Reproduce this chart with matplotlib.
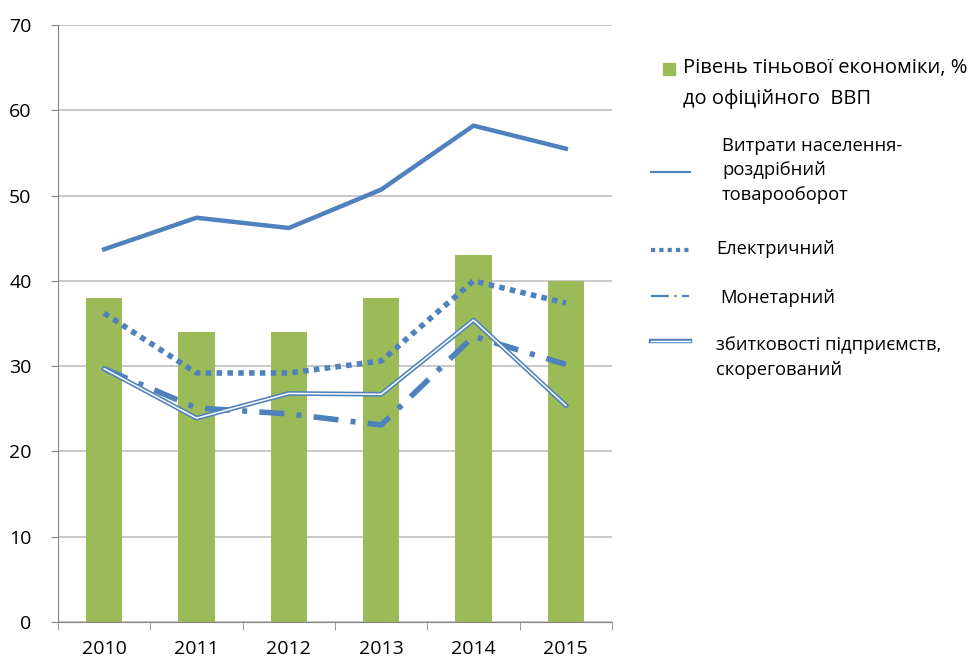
import matplotlib
matplotlib.use("Agg")
import matplotlib.pyplot as plt
from matplotlib.lines import Line2D
from matplotlib.patches import Rectangle
import numpy as np

plt.rcParams['font.family'] = ['Open Sans', 'DejaVu Sans']

years = ["2010", "2011", "2012", "2013", "2014", "2015"]
shadow_level = [38, 34, 34, 38, 43, 40]
retail = [43.7, 47.4, 46.2, 50.7, 58.2, 55.5]
electric = [36.2, 29.2, 29.2, 30.6, 40.0, 37.4]
monetary = [29.7, 25.1, 24.4, 23.1, 33.5, 30.2]
losses = [29.7, 23.9, 26.8, 26.7, 35.4, 25.4]

blue = "#4F81BD"
green = "#9BBB59"

fig = plt.figure(figsize=(9.75, 6.6), dpi=100)
ax = fig.add_axes([58/975, 1-622/660, (612-58)/975, (622-25)/660])

x = np.arange(len(years))
ax.bar(x, shadow_level, width=0.39, color=green, zorder=2)
ax.plot(x, retail, color=blue, lw=3.2, zorder=3)
ax.plot(x, electric, color=blue, lw=4, linestyle=(0, (1.0, 0.95)), zorder=3, dash_capstyle='butt')
ax.plot(x, monetary, color=blue, lw=4, linestyle=(0, (4.5, 2.2, 0.9, 2.2)), zorder=3, dash_capstyle='butt')
ax.plot(x, losses, color=blue, lw=3.4, zorder=3)
ax.plot(x, losses, color='white', lw=1.1, zorder=4)

ax.set_xlim(-0.5, len(years) - 0.5)
ax.set_ylim(0, 70)
ax.set_yticks(np.arange(0, 71, 10))
ax.set_xticks(x)
ax.set_xticklabels(years)
ax.set_xticks(np.arange(-0.5, len(years), 1), minor=True)
ax.tick_params(axis='x', which='major', length=0, labelsize=14, pad=13)
ax.tick_params(axis='x', which='minor', length=6, color='#868686', direction='out')
ax.tick_params(axis='y', length=5, color='#868686', labelsize=14, pad=14)
ax.grid(axis='y', color='#BFBFBF', lw=1.2, zorder=0)
ax.set_axisbelow(True)
for s in ['top', 'right']:
    ax.spines[s].set_visible(False)
ax.spines['left'].set_color('#868686')
ax.spines['bottom'].set_color('#868686')

def fx(px):
    return px / 975
def fy(py):
    return 1 - py / 660

# legend
fig.add_artist(Rectangle((fx(663), fy(75)), 12/975, 12/660, color=green, transform=fig.transFigure))
fig.text(fx(683), fy(68), "Рівень тіньової економіки, %", fontsize=14.5, va='center', ha='left')
fig.text(fx(683), fy(99), "до офіційного  ВВП", fontsize=14.5, va='center', ha='left')

fs = 13.2
fig.add_artist(Line2D([fx(651), fx(690)], [fy(172), fy(172)], color=blue, lw=1.5))
fig.text(fx(722), fy(146), "Витрати населення-", fontsize=fs, va='center')
fig.text(fx(722), fy(170), "роздрібний", fontsize=fs, va='center')
fig.text(fx(722), fy(195), "товарооборот", fontsize=fs, va='center')

fig.add_artist(Line2D([fx(651), fx(689)], [fy(250), fy(250)], color=blue, lw=3, linestyle=(0, (1, 1))))
fig.text(fx(716), fy(249), "Електричний", fontsize=fs, va='center')

fig.add_artist(Line2D([fx(651), fx(689)], [fy(296), fy(296)], color=blue, lw=1.6, linestyle=(0, (8, 2.5, 1, 2.5))))
fig.text(fx(720), fy(298), "Монетарний", fontsize=fs, va='center')

fig.add_artist(Line2D([fx(651), fx(690)], [fy(341), fy(341)], color=blue, lw=3.2))
fig.add_artist(Line2D([fx(651), fx(690)], [fy(341), fy(341)], color='white', lw=1.0))
fig.text(fx(716), fy(345), "збитковості підприємств,", fontsize=fs, va='center')
fig.text(fx(716), fy(370), "скорегований", fontsize=fs, va='center')

fig.savefig("out.png", dpi=100)
